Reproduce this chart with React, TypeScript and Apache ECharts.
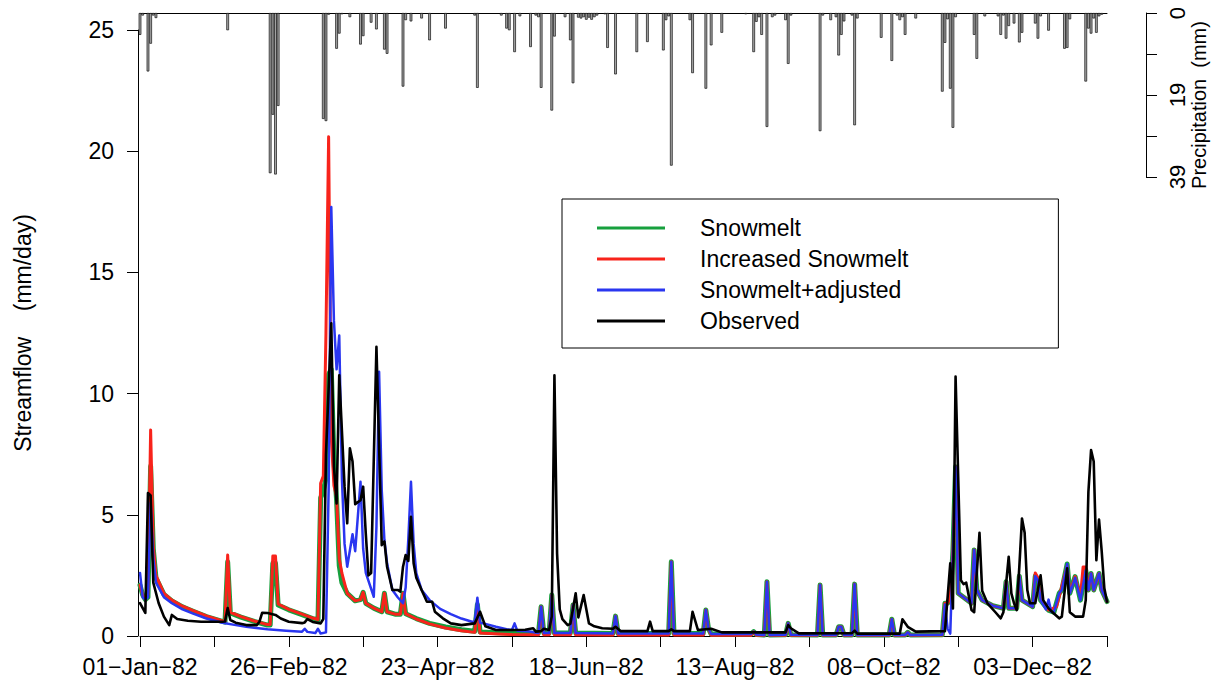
import React, { useEffect, useRef } from 'react';
import * as echarts from 'echarts';

// Day of year (0 = 01-Jan-82) and streamflow in mm/day
const snowmelt: number[][] = [
  [0,2.1],[1,1.7],[2,1.5],[3,1.6],[4,7.0],[5,3.6],[6,2.4],[9,1.72],[12,1.45],[16,1.2],[20,1.02],[25,0.8],[31,0.6],[32,0.57],[33,3.06],[34,0.95],[38,0.78],[43,0.6],[48,0.45],[49,0.45],[50,3.0],[51,3.0],[52,1.28],[56,1.08],[61,0.88],[65,0.72],[67,0.66],[68,5.7],[69,6.0],[70,6.5],[71,10.8],[72,11.0],[73,7.3],[74,5.6],[75,2.9],[76,2.2],[78,1.76],[81,1.45],[83,1.5],[84,1.8],[85,1.35],[88,1.15],[91,1.0],[92,1.76],[93,1.0],[96,0.9],[98,0.9],[99,1.76],[100,0.92],[104,0.72],[109,0.52],[115,0.37],[121,0.26],[126,0.2],[127,1.3],[128,0.17],[135,0.13],[140,0.12],[146,0.1],[150,0.12],[151,1.21],[152,0.12],[154,0.12],[155,1.69],[156,0.12],[162,0.12],[163,1.28],[164,0.12],[178,0.1],[179,0.82],[180,0.1],[199,0.1],[200,3.06],[201,0.1],[212,0.1],[213,1.07],[214,0.3],[215,0.08],[230,0.08],[231,0.18],[232,0.06],[235,0.04],[236,2.24],[237,0.04],[243,0.05],[244,0.52],[245,0.05],[255,0.04],[256,2.1],[257,0.04],[262,0.04],[263,0.38],[264,0.38],[265,0.04],[268,0.04],[269,2.14],[270,0.04],[282,0.04],[283,0.69],[284,0.04],[288,0.04],[289,0.15],[290,0.04],[302,0.05],[303,1.35],[304,1.35],[305,1.6],[306,3.5],[307,6.98],[308,1.76],[310,1.6],[313,1.35],[314,3.55],[315,1.9],[317,1.48],[321,1.25],[325,1.14],[326,2.24],[327,1.14],[330,1.14],[331,2.47],[332,1.48],[336,1.21],[337,2.47],[338,2.3],[339,1.48],[342,1.07],[344,0.98],[346,1.76],[347,1.9],[349,2.97],[350,1.76],[352,2.45],[354,1.48],[356,2.72],[357,1.9],[358,2.58],[359,1.9],[361,2.58],[362,1.9],[364,1.42]
];

const increasedSnowmelt: number[][] = [
  [0,2.1],[1,1.7],[2,1.5],[3,1.7],[4,8.5],[5,3.7],[6,2.5],[9,1.76],[12,1.48],[16,1.23],[20,1.05],[25,0.83],[31,0.62],[32,0.6],[33,3.34],[34,0.98],[38,0.8],[43,0.62],[48,0.47],[49,0.47],[50,3.3],[51,3.3],[52,1.32],[56,1.1],[61,0.9],[65,0.74],[67,0.68],[68,6.3],[69,6.6],[70,12.5],[71,20.6],[72,8.2],[73,6.2],[74,5.74],[75,3.2],[76,2.59],[78,1.76],[81,1.45],[83,1.5],[84,1.8],[85,1.35],[88,1.15],[91,1.0],[92,1.76],[93,1.0],[96,0.9],[98,0.9],[99,1.76],[100,0.92],[104,0.7],[109,0.5],[115,0.33],[121,0.22],[126,0.15],[127,1.3],[128,0.12],[135,0.08],[140,0.06],[150,0.05],[151,1.21],[152,0.05],[154,0.05],[155,1.69],[156,0.05],[162,0.05],[163,1.28],[164,0.05],[178,0.04],[179,0.82],[180,0.04],[199,0.04],[200,3.06],[201,0.04],[212,0.04],[213,1.07],[214,0.3],[215,0.03],[230,0.03],[231,0.18],[232,0.03],[235,0.03],[236,2.24],[237,0.03],[243,0.03],[244,0.52],[245,0.03],[255,0.03],[256,2.1],[257,0.03],[262,0.03],[263,0.38],[264,0.38],[265,0.03],[268,0.03],[269,2.14],[270,0.03],[282,0.03],[283,0.69],[284,0.03],[288,0.03],[289,0.15],[290,0.03],[302,0.04],[303,1.35],[304,1.35],[305,1.6],[306,3.5],[307,6.98],[308,1.76],[310,1.6],[313,1.35],[314,3.55],[315,1.9],[317,1.48],[321,1.25],[325,1.14],[326,2.24],[327,1.14],[330,1.14],[331,2.47],[332,1.48],[336,1.21],[337,2.6],[338,2.4],[339,1.5],[342,1.07],[345,1.2],[349,2.9],[350,1.8],[352,2.45],[354,1.6],[355,2.85],[356,2.85],[357,1.9],[358,2.58],[359,1.9],[361,2.58],[362,1.9],[364,1.42]
];

const snowmeltAdjusted: number[][] = [
  [0,2.6],[1,1.6],[2,1.5],[3,1.6],[4,5.5],[5,3.2],[6,2.2],[9,1.6],[12,1.35],[16,1.1],[20,0.92],[25,0.72],[31,0.55],[35,0.47],[40,0.38],[48,0.28],[55,0.22],[61,0.18],[62,0.3],[63,0.17],[66,0.12],[67,0.3],[68,0.1],[70,0.15],[71,6.0],[72,17.7],[73,13.0],[74,11.0],[75,12.4],[76,6.5],[77,3.8],[78,2.86],[80,4.2],[81,3.5],[83,6.36],[84,3.6],[85,2.6],[88,1.62],[89,4.5],[90,10.9],[91,6.0],[92,3.96],[93,3.0],[95,1.9],[97,1.6],[99,1.35],[100,2.0],[101,4.0],[102,6.36],[103,3.8],[104,2.59],[106,1.9],[109,1.48],[113,1.12],[117,0.9],[121,0.72],[125,0.59],[126,0.6],[127,1.58],[128,0.55],[130,0.5],[134,0.38],[138,0.28],[140,0.25],[141,0.52],[142,0.22],[146,0.2],[150,0.12],[151,1.21],[152,0.12],[154,0.12],[155,1.69],[156,0.12],[162,0.12],[163,1.28],[164,0.12],[178,0.1],[179,0.82],[180,0.1],[199,0.1],[200,3.06],[201,0.1],[212,0.1],[213,1.07],[214,0.3],[215,0.08],[230,0.08],[231,0.18],[232,0.06],[235,0.04],[236,2.24],[237,0.04],[243,0.05],[244,0.52],[245,0.05],[255,0.04],[256,2.1],[257,0.04],[262,0.04],[263,0.38],[264,0.38],[265,0.04],[268,0.04],[269,2.14],[270,0.04],[282,0.04],[283,0.69],[284,0.04],[288,0.04],[289,0.15],[290,0.04],[302,0.05],[303,1.3],[304,0.3],[305,0.1],[306,3.5],[307,6.98],[308,1.76],[310,1.6],[313,1.35],[314,3.55],[315,1.9],[317,1.48],[321,1.25],[325,1.14],[326,2.24],[327,1.14],[330,1.14],[331,2.47],[332,1.48],[336,1.21],[337,2.47],[338,2.3],[339,1.48],[341,1.1],[342,1.5],[343,1.0],[344,0.98],[346,1.76],[347,1.9],[349,2.97],[350,1.76],[352,2.4],[354,1.48],[356,2.7],[357,1.9],[358,2.58],[359,1.9],[361,2.58],[362,1.9],[364,1.42]
];

const observed: number[][] = [
  [0,1.36],[2,0.95],[3,5.9],[4,5.8],[5,2.2],[7,1.36],[9,0.8],[11,0.45],[12,0.87],[14,0.7],[18,0.63],[23,0.59],[31,0.59],[32,0.6],[33,1.15],[34,0.66],[36,0.55],[40,0.45],[44,0.45],[45,0.6],[46,0.96],[48,0.95],[51,0.87],[53,0.72],[56,0.59],[61,0.53],[62,0.56],[63,0.7],[65,0.58],[68,0.52],[69,0.7],[70,7.5],[72,12.9],[73,7.0],[74,5.47],[75,10.76],[77,6.16],[78,4.65],[79,7.74],[80,7.2],[81,5.44],[83,5.6],[84,6.16],[85,4.2],[86,2.5],[87,2.6],[89,11.93],[91,3.75],[92,3.9],[93,2.86],[95,1.9],[97,1.9],[98,1.83],[99,2.86],[100,3.34],[101,3.1],[102,4.92],[103,3.0],[104,2.4],[106,1.9],[108,1.41],[110,1.41],[111,1.0],[114,0.73],[117,0.52],[121,0.45],[126,0.52],[128,1.0],[130,0.4],[134,0.25],[140,0.25],[145,0.26],[148,0.32],[149,0.18],[151,0.2],[152,0.3],[154,0.25],[155,0.8],[156,10.76],[157,3.4],[158,1.1],[159,0.7],[161,0.45],[162,0.5],[164,1.76],[165,0.77],[167,1.69],[169,0.52],[171,0.4],[174,0.32],[178,0.3],[179,0.38],[181,0.2],[191,0.2],[192,0.59],[193,0.2],[199,0.2],[200,0.28],[201,0.2],[207,0.2],[208,1.0],[210,0.25],[215,0.3],[219,0.15],[236,0.15],[243,0.15],[244,0.45],[245,0.32],[248,0.11],[268,0.12],[269,0.22],[270,0.1],[286,0.1],[287,0.69],[289,0.38],[292,0.18],[303,0.2],[305,3.0],[306,1.14],[307,10.7],[309,2.3],[310,2.14],[311,2.2],[313,1.07],[314,0.98],[316,4.26],[317,1.87],[319,1.35],[322,0.98],[324,0.73],[325,0.98],[327,3.27],[328,1.76],[329,1.35],[330,1.07],[331,2.86],[332,4.85],[333,4.26],[334,1.9],[335,1.35],[337,1.35],[339,2.5],[340,1.48],[342,1.14],[344,0.93],[346,0.73],[347,0.8],[349,2.79],[350,0.98],[352,0.8],[355,0.8],[356,1.48],[357,5.95],[358,7.67],[359,7.2],[360,3.13],[361,4.8],[362,3.5],[363,1.97],[364,1.41]
];

// Daily precipitation (mm), only days with rain
const rainDays: number[] = [0,1,3,4,5,6,33,49,50,51,52,69,70,71,74,75,76,79,83,84,87,89,92,93,99,100,102,106,109,115,126,127,136,138,139,141,143,147,149,150,151,155,156,160,162,163,165,166,167,168,169,170,171,172,175,176,179,187,191,197,198,199,200,207,208,213,215,219,228,231,232,233,234,236,238,239,243,244,245,256,257,260,262,263,264,265,268,269,270,279,283,285,286,287,288,292,302,303,304,305,306,307,314,315,318,323,324,325,326,327,329,331,332,337,338,339,342,348,349,350,356,357,358,359,360,361,362];
const rainMm: number[] = [5.2,0.6,13.9,7.3,0.6,1.2,4.1,38.1,24.2,38.4,22.1,25.2,25.7,0.4,8.5,4.9,0.3,1.0,7.5,5.5,2.3,3.9,8.7,9.7,17.5,1.7,2.0,1.3,6.5,3.7,0.6,17.8,0.6,3.7,4.1,9.3,0.8,8.1,0.6,1.0,17.8,23.2,5.6,1.0,6.5,16.7,1.1,1.3,1.0,1.6,1.1,1.6,1.0,0.6,0.3,8.3,14.6,9.3,6.9,8.9,1.7,0.8,36.3,1.7,14.3,18.0,7.7,4.7,0.3,9.3,2.1,1.0,5.2,27.1,1.0,0.6,1.7,12.1,0.6,28.1,0.6,1.7,1.0,10.1,5.2,2.0,0.6,26.7,1.3,5.9,11.4,0.6,1.7,1.0,5.2,1.3,18.7,7.1,1.5,18.0,27.3,1.0,5.2,10.9,0.8,0.8,5.2,0.6,6.1,3.1,2.5,7.0,4.7,2.5,6.1,0.8,4.2,8.5,8.3,1.5,16.3,3.7,4.9,1.3,4.7,0.8,0.4];

// Date labels every 56 days (ticks every 28)
const labelDays: number[] = [0, 56, 112, 168, 224, 280, 336];
const dateLabels: string[] = ['01\u2212Jan\u221282', '26\u2212Feb\u221282', '23\u2212Apr\u221282', '18\u2212Jun\u221282', '13\u2212Aug\u221282', '08\u2212Oct\u221282', '03\u2212Dec\u221282'];

// Precipitation axis ticks that carry a label
const rainTickLabels: Record<string, string> = { '0': '0', '19.5': '19', '39': '39' };

const seriesNames = ['Snowmelt', 'Increased Snowmelt', 'Snowmelt+adjusted', 'Observed'];
const seriesColors = ['#17a03e', '#f8231b', '#2a36f0', '#000000'];
const seriesWidths = [5, 3, 2.5, 2.6];

const FONT = '"Liberation Sans", Arial, Helvetica, sans-serif';

export default function App() {
  const ref = useRef<HTMLDivElement>(null);

  useEffect(() => {
    const chart = echarts.init(ref.current!, null, { renderer: 'svg' });
    const flows = [snowmelt, increasedSnowmelt, snowmeltAdjusted, observed];

    const lineSeries = flows.map((d, i) => ({
      type: 'line',
      name: seriesNames[i],
      xAxisIndex: 0,
      yAxisIndex: 0,
      data: d,
      showSymbol: false,
      symbol: 'none',
      lineStyle: { color: seriesColors[i], width: seriesWidths[i], cap: 'round', join: 'round' },
      itemStyle: { color: seriesColors[i] },
      z: 3 + i,
    }));

    const axisLineStyle = { color: '#000', width: 1 };

    chart.setOption({
      animation: false,
      textStyle: { fontFamily: FONT },
      grid: [
        { left: 140, top: 30, width: 967, height: 606 },
        { left: 140, top: 13, width: 967, height: 164 },
      ],
      xAxis: [
        {
          type: 'value', gridIndex: 0, min: 0, max: 364, interval: 28,
          axisLine: { show: true, onZero: false, lineStyle: axisLineStyle },
          axisTick: { show: true, length: 11, lineStyle: axisLineStyle },
          axisLabel: {
            fontSize: 23, color: '#000', margin: 19, fontFamily: FONT,
            showMinLabel: true, showMaxLabel: true,
            formatter: (v: number) => {
              const k = labelDays.indexOf(Math.round(v));
              return k >= 0 ? dateLabels[k] : '';
            },
          },
          splitLine: { show: false },
        },
        {
          type: 'value', gridIndex: 1, min: 0, max: 364, position: 'top',
          axisLine: { show: true, onZero: false, lineStyle: axisLineStyle },
          axisTick: { show: false }, axisLabel: { show: false }, splitLine: { show: false },
        },
      ],
      yAxis: [
        {
          type: 'value', gridIndex: 0, min: 0, max: 25, interval: 5, offset: 2,
          axisLine: { show: true, onZero: false, lineStyle: axisLineStyle },
          axisTick: { show: true, length: 11, lineStyle: axisLineStyle },
          axisLabel: { fontSize: 23, color: '#000', margin: 24, fontFamily: FONT },
          splitLine: { show: false },
          name: 'Streamflow    (mm/day)', nameLocation: 'middle', nameGap: 104,
          nameTextStyle: { fontSize: 23, color: '#000', fontFamily: FONT },
        },
        {
          type: 'value', gridIndex: 1, min: 0, max: 39, interval: 9.75, inverse: true,
          position: 'right', offset: 39,
          axisLine: { show: true, onZero: false, lineStyle: axisLineStyle },
          axisTick: { show: true, length: 11, lineStyle: axisLineStyle },
          axisLabel: {
            rotate: 90, fontSize: 22, color: '#000', margin: 20, fontFamily: FONT,
            formatter: (v: number) => rainTickLabels[String(v)] ?? '',
          },
          splitLine: { show: false },
        },
      ],
      legend: {
        left: 562, top: 199, orient: 'vertical',
        data: seriesNames,
        icon: 'rect', itemWidth: 68, itemHeight: 3, itemGap: 5,
        padding: [16, 150, 14, 35],
        borderColor: '#000', borderWidth: 1, backgroundColor: '#fff',
        selectedMode: false,
        textStyle: { fontSize: 23, color: '#000', lineHeight: 26, padding: [0, 0, 0, 30], fontFamily: FONT },
      },
      graphic: [
        {
          type: 'text', x: 1199, y: 105, rotation: Math.PI / 2,
          style: {
            text: 'Precipitation  (mm)', fill: '#000', font: `20px ${FONT}`,
            align: 'center', verticalAlign: 'middle',
          },
        },
      ],
      series: [
        {
          type: 'bar', name: 'Precipitation', xAxisIndex: 1, yAxisIndex: 1,
          data: rainDays.map((d, i) => [d, rainMm[i]]),
          barWidth: 2.7,
          itemStyle: { color: '#a4a4a4', borderColor: '#111', borderWidth: 0.7 },
          z: 2,
        },
        ...lineSeries,
      ],
    });

    return () => chart.dispose();
  }, []);

  return (
    <div
      ref={ref}
      style={{ position: 'fixed', left: 0, top: 0, width: 1225, height: 688, background: '#fff' }}
    />
  );
}
